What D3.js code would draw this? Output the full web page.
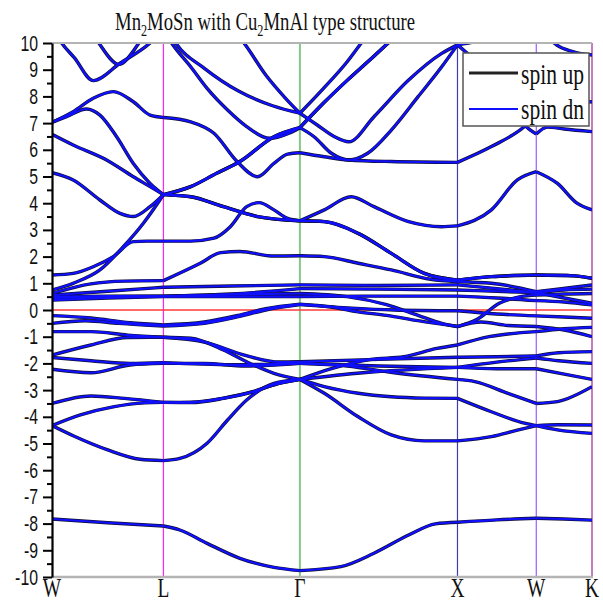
<!DOCTYPE html>
<html>
<head>
<meta charset="utf-8">
<script src="https://cdn.jsdelivr.net/npm/d3@7"></script>
<style>
body { margin: 0; background: #fff; }
</style>
</head>
<body>
<script>
// high symmetry points and their distances along the k path
var symLabels = ['W', 'L', '\u0393', 'X', 'W', 'K'];
var symDist = [0, 0.7071, 1.5731, 2.5731, 3.0731, 3.4267];
var symColors = [null, '#ff22ff', '#84c884', '#3c3cb8', '#9a5cff', '#c47cc4'];

var yTicks = [-10, -9, -8, -7, -6, -5, -4, -3, -2, -1, 0, 1, 2, 3, 4, 5, 6, 7, 8, 9, 10];

// bands: [k (0=W,1=L,2=G,3=X,4=W,5=K), energy eV]
var bandA = [[0,-7.83],[0.5,-7.97],[1,-8.09],[1.12,-8.24],[1.32,-8.74],[1.56,-9.3],[1.81,-9.64],[2,-9.76],[2.26,-9.61],[2.47,-9.11],[2.69,-8.43],[2.86,-8.01],[3,-7.95],[3.5,-7.86],[4,-7.8],[4.5,-7.83],[5,-7.87]];
var bandB = [[0,-4.33],[0.195,-4.72],[0.5,-5.24],[0.79,-5.59],[1,-5.64],[1.12,-5.56],[1.32,-4.99],[1.47,-4.12],[1.61,-3.37],[1.81,-2.75],[2,-2.6],[2.155,-3.12],[2.37,-4.0],[2.58,-4.68],[2.79,-4.9],[3,-4.9],[3.43,-4.74],[3.76,-4.5],[4,-4.33],[4.38,-4.49],[5,-4.62]];
var bandC = [[0,-4.33],[0.255,-3.93],[0.56,-3.62],[0.83,-3.48],[1,-3.46],[1.2,-3.45],[1.44,-3.3],[1.66,-3.05],[1.81,-2.8],[2,-2.6],[2.155,-2.87],[2.37,-3.12],[2.58,-3.25],[2.79,-3.3],[3,-3.31],[3.43,-3.81],[3.85,-4.24],[4,-4.33],[4.38,-4.3],[5,-4.31]];
var bandD = [[0,-3.5],[0.35,-3.22],[0.65,-3.31],[1,-3.46],[1.2,-3.47],[1.44,-3.31],[1.66,-3.06],[1.81,-2.8],[2,-2.6],[2.2,-2.2],[2.45,-1.85],[2.66,-1.75],[2.87,-1.44],[3,-1.31],[3.4,-1.0],[4,-0.81],[4.5,-0.7],[5,-0.65]];
var bandE = [[0,-2.22],[0.35,-2.35],[0.7,-2.06],[1,-2.0],[1.3,-2.0],[1.6,-2.1],[2,-2.0],[2.3,-2.1],[2.6,-2.35],[3,-2.6],[3.22,-2.68],[3.64,-3.12],[4,-3.5],[4.38,-3.43],[5,-2.87]];
var bandF = [[0,-1.78],[0.35,-1.9],[0.7,-2.0],[1,-1.97],[1.5,-2.05],[2,-2.0],[2.5,-2.1],[3,-2.15],[3.5,-1.95],[4,-1.8],[4.4,-1.9],[5,-2.0]];
var bandG = [[0,-1.69],[0.35,-1.31],[0.68,-1.03],[1,-1.02],[1.3,-1.2],[1.6,-1.7],[1.85,-1.95],[2,-1.94],[2.5,-1.85],[3,-1.77],[3.5,-1.75],[4,-1.72],[4.4,-1.6],[5,-1.56]];
var bandH = [[0,-0.81],[0.35,-0.81],[0.68,-0.94],[1,-1.02],[1.2,-1.06],[1.44,-1.5],[1.61,-1.94],[1.81,-2.37],[2,-2.6],[2.4,-2.35],[3,-2.15],[3.5,-2.2],[4,-2.2],[4.5,-2.4],[5,-2.6]];
var bandI = [[0,-0.21],[0.35,-0.3],[0.7,-0.48],[1,-0.56],[1.3,-0.45],[1.55,-0.2],[1.75,0.05],[2,0.22],[2.19,0.12],[2.36,-0.06],[2.55,-0.2],[2.75,-0.4],[3,-0.62],[3.3,-0.45],[3.64,-0.58],[4,-0.62],[4.5,-0.75],[5,-1.0]];
var bandJ = [[0,-0.5],[0.3,-0.4],[0.6,-0.5],[1,-0.6],[1.3,-0.5],[1.55,-0.25],[1.75,0.0],[2,0.2],[2.3,0.08],[2.6,0.0],[3,-0.03],[3.5,-0.15],[4,-0.22],[4.5,-0.26],[5,-0.31]];
var bandKb = [[0,0.45],[0.5,0.5],[1,0.52],[1.5,0.58],[2,0.62],[2.3,0.5],[2.55,0.2],[2.75,-0.2],[2.9,-0.5],[3,-0.62],[3.25,-0.35],[3.53,0.25],[3.8,0.5],[4,0.56],[4.5,0.6],[5,0.62]];
var bandN = [[0,0.37],[0.5,0.45],[1,0.5],[1.5,0.5],[2,0.5],[2.5,0.52],[3,0.52],[3.5,0.45],[4,0.35],[4.5,0.3],[5,0.19]];
var bandM = [[0,0.5],[0.5,0.52],[1,0.52],[1.5,0.6],[2,0.8],[2.5,0.78],[3,0.75],[3.5,0.7],[4,0.65],[4.5,0.45],[5,0.25]];
var bandLb = [[0,0.56],[0.5,0.7],[1,0.85],[1.5,0.9],[2,0.94],[2.5,0.92],[3,0.94],[3.5,0.8],[4,0.65],[4.5,0.75],[5,0.78]];
var bandO = [[0,0.62],[0.35,0.98],[0.65,1.08],[1,1.1],[1.27,1.75],[1.42,2.15],[1.56,2.19],[1.81,2.02],[2,2.03],[2.155,2.0],[2.37,1.75],[2.58,1.5],[2.83,1.15],[3,1.06],[3.43,1.0],[4,0.69],[4.38,0.78],[5,0.94]];
var bandS1 = [[0,1.31],[0.19,1.37],[0.37,1.62],[0.55,2.0],[0.73,2.56],[0.85,2.58],[1,2.58],[1.2,2.58],[1.37,2.69],[1.49,3.12],[1.61,3.87],[1.7,4.02],[1.81,3.75],[1.91,3.43],[2,3.34],[2.155,3.31],[2.37,2.87],[2.58,2.12],[2.79,1.37],[3,1.12],[3.43,1.25],[4,1.31],[4.68,1.28],[5,1.19]];
var bandS2 = [[0,0.75],[0.19,1.0],[0.43,1.5],[0.64,2.37],[0.82,3.25],[1,4.32],[1.2,4.24],[1.44,3.87],[1.69,3.5],[2,3.34],[2.155,3.31],[2.37,2.87],[2.58,2.12],[2.79,1.37],[3,1.12],[3.43,1.25],[4,1.31],[4.68,1.28],[5,1.19]];
var bandS3 = [[0,5.14],[0.19,4.87],[0.43,4.12],[0.61,3.62],[0.73,3.5],[0.88,3.87],[1,4.32],[1.2,4.62],[1.39,5.12],[1.56,5.56],[1.81,6.49],[2,6.83],[2.15,7.75],[2.3,8.6],[2.45,9.4],[2.56,10],[2.7,10.8]];
var bandS4 = [[0,6.58],[0.19,6.18],[0.49,5.62],[0.73,4.99],[0.88,4.62],[1,4.32],[1.2,4.24],[1.44,3.87],[1.69,3.5],[2,3.34],[2.155,3.75],[2.325,4.24],[2.47,3.87],[2.69,3.31],[2.9,3.12],[3,3.15],[3.43,3.75],[3.76,4.87],[4,5.18],[4.38,4.74],[4.73,4.0],[5,3.75]];
var bandS5 = [[0,7.03],[0.13,7.24],[0.31,7.53],[0.43,7.3],[0.58,6.49],[0.73,5.49],[0.88,4.74],[1,4.32],[1.2,4.62],[1.39,5.12],[1.56,5.56],[1.81,6.49],[2,6.83],[2.09,6.49],[2.2,5.87],[2.31,5.62],[2.43,5.87],[2.58,6.74],[2.75,7.99],[2.9,9.11],[3,9.93],[3.4,8.8],[3.7,7.6],[3.85,6.93],[4,6.59],[4.2,6.85],[4.5,6.78],[5,6.68]];
var bandS6 = [[0,7.03],[0.19,7.43],[0.37,7.93],[0.55,8.18],[0.73,7.8],[0.88,7.3],[1,7.21],[1.2,7.05],[1.37,6.62],[1.54,5.56],[1.69,4.99],[1.81,5.49],[1.91,5.84],[2,5.89],[2.155,5.74],[2.31,5.62],[2.58,5.56],[3,5.53],[3.43,6.12],[3.85,6.87],[4,7.3],[4.5,7.7],[5,7.8]];
var bandV1 = [[0,10.6],[0.087,10],[0.2,9.45],[0.37,8.59],[0.61,9.24],[0.88,10],[1,10.5],[1.06,10],[1.2,9.11],[1.32,8.3],[1.47,7.49],[1.61,6.87],[1.78,6.43],[1.92,6.62],[2,6.83],[2.15,7.75],[2.3,8.6],[2.45,9.4],[2.56,10],[2.7,10.8]];
var bandV2 = [[0.3,10.8],[0.42,10],[0.6,9.2],[0.78,10],[0.9,10.8]];
var bandT2 = [[1,10.8],[1.09,10],[1.3,9.05],[1.55,8.2],[1.8,7.65],[2,7.37],[2.15,8.3],[2.3,9.3],[2.39,10],[2.5,10.8]];
var bandT3 = [[1.45,10.8],[1.59,10],[1.75,8.8],[1.9,7.9],[2,7.37],[2.11,6.93],[2.22,6.49],[2.31,6.3],[2.47,7.24],[2.69,8.61],[2.9,9.61],[3,9.93],[3.3,10.1],[3.6,10.4]];
var bandU = [[4.2,10.4],[4.32,10],[4.67,9.67],[5,9.55]];

var bands = [bandA, bandB, bandC, bandD, bandE, bandF, bandG, bandH, bandI, bandJ, bandKb,
  bandN, bandM, bandLb, bandO, bandS1, bandS2, bandS3, bandS4, bandS5, bandS6,
  bandV1, bandV2, bandT2, bandT3, bandU];

var width = 603,
    height = 603;
var plotL = 52, plotR = 592, plotT = 43, plotB = 577;
var sx = 0.72; // glyphs in the picture are narrow

var svg = d3.select('body')
  .append('svg')
  .attr('width', width)
  .attr('height', height);

var x = d3.scaleLinear()
  .domain(d3.range(symDist.length))
  .range(symDist.map(function(d) { return plotL + (plotR - plotL) * d / symDist[symDist.length - 1]; }));

var y = d3.scaleLinear()
  .domain([-10, 10])
  .range([plotB, plotT]);

svg.append('clipPath').attr('id', 'plot')
  .append('rect')
  .attr('x', plotL).attr('y', plotT)
  .attr('width', plotR - plotL).attr('height', plotB - plotT);

// symmetry lines
svg.selectAll('.sym')
  .data(d3.range(1, symLabels.length))
  .enter().append('line')
  .attr('x1', function(i) { return x(i); })
  .attr('x2', function(i) { return x(i); })
  .attr('y1', plotT).attr('y2', plotB)
  .attr('stroke', function(i) { return symColors[i]; })
  .attr('stroke-width', function(i) { return i === 2 || i === 5 ? 2 : 1.2; });

// fermi level
svg.append('line')
  .attr('x1', plotL).attr('x2', plotR)
  .attr('y1', y(0)).attr('y2', y(0))
  .attr('stroke', '#ff3a3a')
  .attr('stroke-width', 1.3);

// split each band at the symmetry points so kinks stay sharp
var pieces = [];
bands.forEach(function(b) {
  for (var i = 0; i < symLabels.length - 1; i++) {
    var pts = b.filter(function(p) { return p[0] >= i && p[0] <= i + 1; });
    if (pts.length > 1) pieces.push(pts);
  }
});

var line = d3.line()
  .x(function(d) { return x(d[0]); })
  .y(function(d) { return y(d[1]); })
  .curve(d3.curveMonotoneX);

var g = svg.append('g').attr('clip-path', 'url(#plot)');

// spin up (black) under spin dn (blue)
g.append('g').selectAll('path')
  .data(pieces)
  .enter().append('path')
  .attr('d', line)
  .attr('fill', 'none')
  .attr('stroke', '#101030')
  .attr('stroke-width', 3.4)
  .attr('stroke-linejoin', 'round');

g.append('g').selectAll('path')
  .data(pieces)
  .enter().append('path')
  .attr('d', line)
  .attr('fill', 'none')
  .attr('stroke', '#1010ff')
  .attr('stroke-width', 2.1)
  .attr('stroke-linejoin', 'round');

// frame
svg.append('line')
  .attr('x1', plotL).attr('x2', plotR).attr('y1', plotT).attr('y2', plotT)
  .attr('stroke', '#b4b4b4').attr('stroke-width', 2);
svg.append('line')
  .attr('x1', plotL).attr('x2', plotR + 1).attr('y1', plotB).attr('y2', plotB)
  .attr('stroke', '#b4b4b4').attr('stroke-width', 2.5);

// y axis
var yAxis = d3.axisLeft(y)
  .tickValues(yTicks)
  .tickSize(9)
  .tickSizeOuter(0)
  .tickFormat(function(d) { return String(d); });

var ya = svg.append('g')
  .attr('transform', 'translate(' + plotL + ',0)')
  .call(yAxis);
ya.select('.domain').attr('stroke', '#000').attr('stroke-width', 2.2);
ya.selectAll('.tick line').attr('stroke', '#000').attr('stroke-width', 2);
ya.selectAll('.tick text')
  .attr('transform', 'scale(' + sx + ',1)')
  .attr('x', -14 / sx)
  .attr('fill', '#111')
  .style('font-family', '"Liberation Sans", Arial, sans-serif')
  .style('font-size', '22px');

var minor = d3.axisLeft(y)
  .tickValues(d3.range(-9.5, 10, 1))
  .tickSize(5)
  .tickSizeOuter(0)
  .tickFormat('');
var ym = svg.append('g')
  .attr('transform', 'translate(' + plotL + ',0)')
  .call(minor);
ym.select('.domain').remove();
ym.selectAll('.tick line').attr('stroke', '#000').attr('stroke-width', 2);

// k point labels
svg.selectAll('.klabel')
  .data(symLabels)
  .enter().append('g')
  .attr('transform', function(d, i) { return 'translate(' + x(i) + ',597) scale(' + sx + ',1)'; })
  .append('text')
  .attr('text-anchor', 'middle')
  .style('font-family', '"Liberation Serif", "Times New Roman", serif')
  .style('font-size', '27px')
  .attr('fill', '#111')
  .text(function(d) { return d; });

// title
var title = svg.append('g')
  .attr('transform', 'translate(115,30) scale(' + sx + ',1)')
  .append('text')
  .style('font-family', '"Liberation Serif", "Times New Roman", serif')
  .style('font-size', '26px')
  .attr('fill', '#111');
title.append('tspan').text('Mn');
title.append('tspan').attr('dy', 6).style('font-size', '17px').text('2');
title.append('tspan').attr('dy', -6).text('MoSn with Cu');
title.append('tspan').attr('dy', 6).style('font-size', '17px').text('2');
title.append('tspan').attr('dy', -6).text('MnAl type structure');

// legend
var legend = svg.append('g');
legend.append('rect')
  .attr('x', 463).attr('y', 53)
  .attr('width', 126).attr('height', 73)
  .attr('fill', '#fff')
  .attr('stroke', '#555')
  .attr('stroke-width', 1.5);
var legendItems = [
  {label: 'spin up', color: '#222', w: 3, y: 73, ty: 84},
  {label: 'spin dn', color: '#1010ff', w: 2.2, y: 109, ty: 119}
];
legendItems.forEach(function(d) {
  legend.append('line')
    .attr('x1', 469).attr('x2', 518)
    .attr('y1', d.y).attr('y2', d.y)
    .attr('stroke', d.color)
    .attr('stroke-width', d.w);
  legend.append('g')
    .attr('transform', 'translate(521,' + d.ty + ') scale(' + sx + ',1)')
    .append('text')
    .style('font-family', '"Liberation Serif", "Times New Roman", serif')
    .style('font-size', '30px')
    .attr('fill', '#111')
    .text(d.label);
});
</script>
</body>
</html>
